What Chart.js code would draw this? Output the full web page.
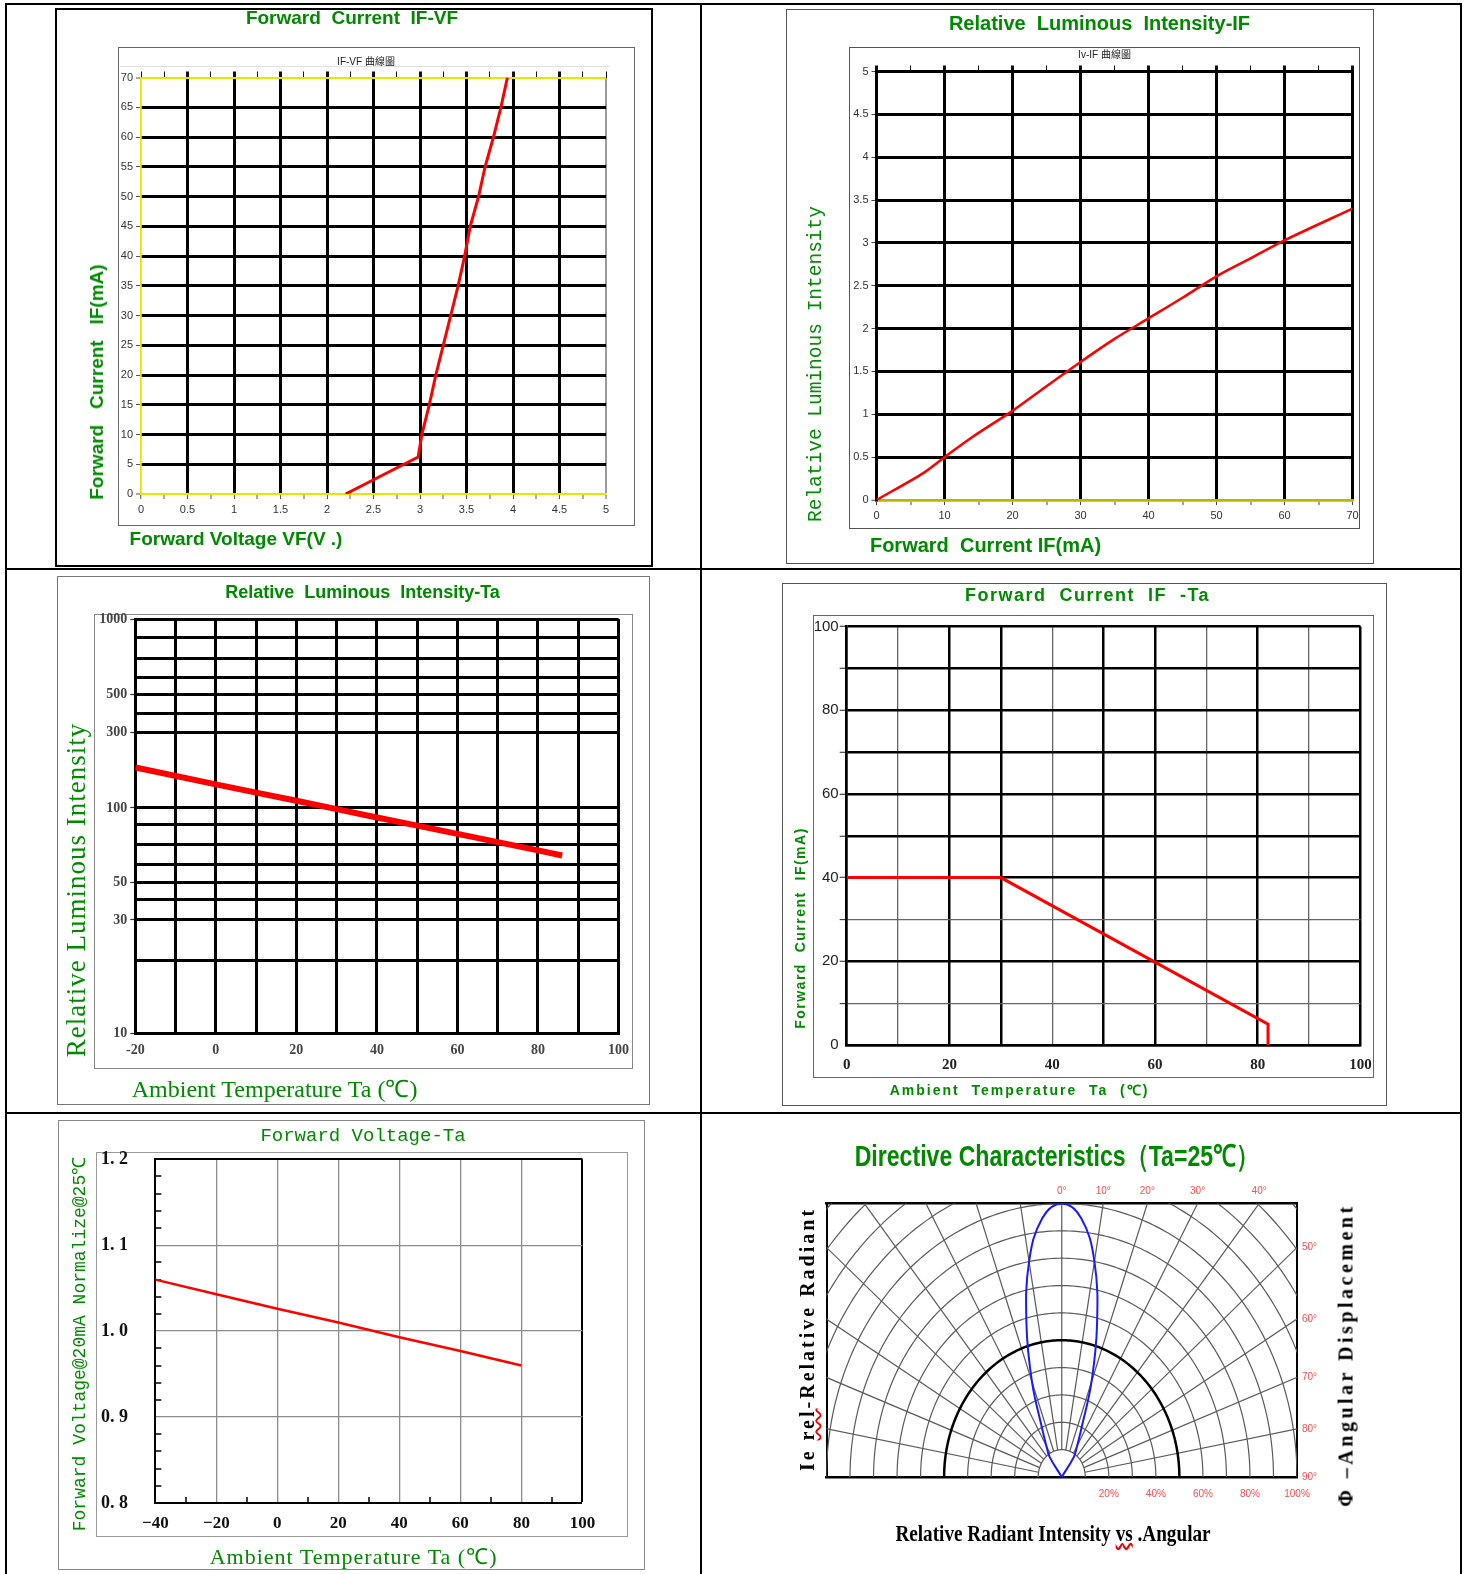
<!DOCTYPE html>
<html>
<head>
<meta charset="utf-8">
<title>LED characteristic curves</title>
<script src="https://cdn.jsdelivr.net/npm/chart.js@4.4.1/dist/chart.umd.min.js"></script>
<style>
html, body { margin:0; padding:0; background:#fff; }
#page { position:relative; width:1465px; height:1574px; overflow:hidden; background:#fff; }
canvas { position:absolute; z-index:2; }
</style>
</head>
<body>
<div id="page"></div>
<script>
// ================= DATA =================
// 1. Forward Current IF-VF
const ifvfVoltage = [2.2, 2.5, 2.98, 3.02, 3.10, 3.17, 3.25, 3.33, 3.41, 3.48, 3.54, 3.63, 3.70, 3.79, 3.87, 3.94];
const ifvfCurrent = [0, 2.4, 6.2, 10, 15, 20, 25, 30, 35, 40, 45, 50, 55, 60, 65, 70];
const ifvfVoltTicks = [0, 0.5, 1, 1.5, 2, 2.5, 3, 3.5, 4, 4.5, 5];
const ifvfCurrTicks = [0, 5, 10, 15, 20, 25, 30, 35, 40, 45, 50, 55, 60, 65, 70];

// 2. Relative Luminous Intensity-IF
const ivifCurrent = [0, 7, 10, 14, 20, 24, 30, 35, 40, 45, 50, 55, 60, 70];
const ivifIntensity = [0, 0.32, 0.5, 0.73, 1.04, 1.27, 1.61, 1.88, 2.12, 2.36, 2.61, 2.82, 3.03, 3.4];
const ivifCurrTicks = [0, 10, 20, 30, 40, 50, 60, 70];
const ivifIntTicks = [0, 0.5, 1, 1.5, 2, 2.5, 3, 3.5, 4, 4.5, 5];

// 3. Relative Luminous Intensity-Ta
const ivtaTemp = [-20, 0, 10, 20, 30, 40, 50, 60, 70, 80, 86];
const ivtaIntensity = [180, 141, 125, 111, 98.5, 88, 79.4, 75.2, 71.2, 67, 64.4];
const ivtaTempTicks = [-20, 0, 20, 40, 60, 80, 100];
const ivtaIntTicks = [10, 30, 50, 100, 300, 500, 1000];
const ivtaGridValues = [10, 20, 30, 40, 50, 60, 70, 80, 100, 300, 400, 500, 600, 700, 800, 1000];

// 4. Forward Current IF-Ta
const ifTaTemp = [0, 30, 82, 82];
const ifTaCurrent = [40, 40, 5, 0];
const ifTaTempTicks = [0, 20, 40, 60, 80, 100];
const ifTaCurrTicks = [0, 20, 40, 60, 80, 100];

// 5. Forward Voltage-Ta
const vfTaTemp = [-40, -20, 0, 20, 40, 60, 80];
const vfTaVoltage = [1.06, 1.043, 1.026, 1.01, 0.993, 0.977, 0.96];
const vfTaTempTicks = [-40, -20, 0, 20, 40, 60, 80, 100];
const vfTaVoltTicks = [0.8, 0.9, 1.0, 1.1, 1.2];

// 6. Directive characteristics
const dirAngles = [-40, -35, -30, -25, -20, -15, -10, -5, 0, 5, 10, 15, 20, 25, 30, 35, 40];
const dirIntensity = [0, 0.09, 0.13, 0.2, 0.37, 0.58, 0.8, 0.95, 1, 0.95, 0.8, 0.58, 0.37, 0.2, 0.13, 0.09, 0];
const dirAngleTicksTop = [0, 10, 20, 30, 40];
const dirAngleTicksSide = [50, 60, 70, 80, 90];
const dirPercentTicks = [20, 40, 60, 80, 100];

// ================= HELPERS =================
const GREEN = '#008a00';
Chart.defaults.font.family = "'Liberation Sans', Arial, sans-serif";
Chart.defaults.animation = false;
Chart.defaults.events = [];
Chart.defaults.plugins.legend.display = false;
Chart.defaults.plugins.tooltip.enabled = false;

const page = document.getElementById('page');
const near = (a, b) => Math.abs(a - b) < 1e-7;
const inSet = (v, arr) => arr.some(a => near(a, v));
const tv = c => (c && c.tick ? c.tick.value : NaN);
const mids = arr => arr.slice(1).map((v, i) => +(((v + arr[i]) / 2).toFixed(6)));
const subdiv = (arr, n) => { const o = []; for (let i = 0; i < arr.length - 1; i++) for (let k = 1; k < n; k++) o.push(+((arr[i] + (arr[i + 1] - arr[i]) * k / n).toFixed(6))); return o; };
const setTicks = vals => s => { s.ticks = vals.slice().sort((a, b) => a - b).map(v => ({ value: v })); };
const pts = (xs, ys) => xs.map((x, i) => ({ x, y: ys[i] }));

function div(css, text, html) {
  const d = document.createElement('div');
  d.style.cssText = css;
  if (html) d.innerHTML = html; else if (text != null) d.textContent = text;
  page.appendChild(d);
  return d;
}
function rect(l, t, r, b, border, z) {
  return div(`position:absolute;left:${l}px;top:${t}px;width:${r - l}px;height:${b - t}px;box-sizing:border-box;border:${border};z-index:${z || 1};`);
}
function fill(l, t, w, h, color) {
  return div(`position:absolute;left:${l}px;top:${t}px;width:${w}px;height:${h}px;background:${color};z-index:3;`);
}
function label(text, cx, cy, font, o = {}) {
  const tr = `translate(-50%,-50%)${o.rot ? ' rotate(-90deg)' : ''}${o.sx ? ` scaleX(${o.sx})` : ''}`;
  return div(`position:absolute;left:${cx}px;top:${cy}px;white-space:pre;line-height:1;font:${font};color:${o.color || GREEN};letter-spacing:${o.ls || 0}px;transform:${tr};z-index:5;`, text, o.html);
}

// place a chart so that its plot area lands on `area` inside canvas `frame`
function mk(frame, area, cfg, o = {}) {
  const c = document.createElement('canvas');
  const W = Math.round(frame.r - frame.l), H = Math.round(frame.b - frame.t);
  c.width = W; c.height = H;
  c.style.left = frame.l + 'px'; c.style.top = frame.t + 'px';
  c.style.width = W + 'px'; c.style.height = H + 'px';
  page.appendChild(c);
  const topH = o.topH || 0, rightW = o.rightW || 0, padL = o.padL || 0;
  cfg.options.responsive = false;
  cfg.options.maintainAspectRatio = false;
  cfg.options.layout = { padding: { left: padL, top: area.t - frame.t - topH, right: frame.l + W - area.r - rightW, bottom: 0 } };
  const sc = cfg.options.scales;
  for (const k in sc) {
    const s = sc[k];
    if (s.position === 'left') s.afterFit = a => { a.width = area.l - frame.l - padL; };
    else if (s.position === 'bottom') s.afterFit = a => { a.height = frame.t + H - area.b; };
    else if (s.position === 'top') s.afterFit = a => { a.height = topH; };
    else if (s.position === 'right') s.afterFit = a => { a.width = rightW; };
  }
  return new Chart(c, cfg);
}

// custom scale reproducing the printed (non-uniform log) grid of chart 3
const ivtaStops = [0, 0.1742, 0.2732, 0.3213, 0.3635, 0.4068, 0.4548, 0.5036, 0.5435, 0.7261, 0.7717, 0.8174, 0.8589, 0.9046, 0.9543, 1];
class StepLogScale extends Chart.LinearScale {
  buildTicks() { return ivtaGridValues.map(v => ({ value: v })); }
  _dec(v) {
    const g = ivtaGridValues, s = ivtaStops;
    let i = 0;
    while (i < g.length - 2 && v > g[i + 1]) i++;
    const t = (Math.log(v) - Math.log(g[i])) / (Math.log(g[i + 1]) - Math.log(g[i]));
    return s[i] + t * (s[i + 1] - s[i]);
  }
  getPixelForValue(v) {
    if (v === null || v === undefined || isNaN(v) || v <= 0) return NaN;
    return this.getPixelForDecimal(this._dec(v));
  }
  getValueForPixel(p) {
    const d = this.getDecimalForPixel(p), g = ivtaGridValues, s = ivtaStops;
    let i = 0;
    while (i < s.length - 2 && d > s[i + 1]) i++;
    const t = (d - s[i]) / (s[i + 1] - s[i]);
    return Math.exp(Math.log(g[i]) + t * (Math.log(g[i + 1]) - Math.log(g[i])));
  }
}
StepLogScale.id = 'stepLog';
Chart.register(StepLogScale);

// polar grid for chart 6
const polarGrid = {
  id: 'polarGrid',
  beforeDatasetsDraw(chart) {
    const { ctx, chartArea: a, scales: { x, y } } = chart;
    const P = (r, deg) => {
      const t = deg * Math.PI / 180;
      return [x.getPixelForValue(r * Math.sin(t)), y.getPixelForValue(r * Math.cos(t))];
    };
    ctx.save();
    ctx.beginPath();
    ctx.rect(a.left, a.top, a.right - a.left, a.bottom - a.top);
    ctx.clip();
    ctx.strokeStyle = '#5a5a5a';
    ctx.lineWidth = 1.2;
    for (let i = 1; i <= 14; i++) {
      if (i === 5) continue;
      ctx.beginPath();
      for (let d = -90; d <= 90; d += 1) {
        const [px, py] = P(i / 10, d);
        d === -90 ? ctx.moveTo(px, py) : ctx.lineTo(px, py);
      }
      ctx.stroke();
    }
    for (let d = -80; d <= 80; d += 10) {
      const [x1, y1] = P(0.1, d), [x2, y2] = P(2, d);
      ctx.beginPath(); ctx.moveTo(x1, y1); ctx.lineTo(x2, y2); ctx.stroke();
    }
    ctx.strokeStyle = '#000';
    ctx.lineWidth = 2.5;
    ctx.beginPath();
    for (let d = -90; d <= 90; d += 1) {
      const [px, py] = P(0.5, d);
      d === -90 ? ctx.moveTo(px, py) : ctx.lineTo(px, py);
    }
    ctx.stroke();
    ctx.restore();
  }
};

// ================= TABLE & FRAMES =================
fill(5, 3, 1457, 2, '#000');
fill(5, 3, 2, 1571, '#000');
fill(1460, 3, 2, 1571, '#000');
fill(700, 3, 2, 1571, '#000');
fill(5, 568, 1457, 2, '#000');
fill(5, 1112, 1457, 2, '#000');

rect(55, 8, 653, 567, '2px solid #000');
rect(118, 47, 635, 526, '1.5px solid #666');
fill(120, 66, 490, 1, '#e2e2e2');
rect(786, 9, 1374, 564, '1px solid #555');
rect(849, 47, 1360, 529, '1.5px solid #555');
rect(57, 576, 650, 1105, '1px solid #777');
rect(94, 614, 633, 1069, '1.5px solid #888');
rect(782, 583, 1387, 1106, '1px solid #555');
rect(813, 615, 1374, 1078, '1.5px solid #666');
rect(58, 1120, 645, 1570, '1px solid #888');
rect(96, 1152, 628, 1537, '1.5px solid #999');

// ================= CHART 1 : IF-VF =================
{
  const allX = [...ifvfVoltTicks, ...mids(ifvfVoltTicks)];
  mk({ l: 55, t: 8, r: 653, b: 567 }, { l: 141, t: 77.5, r: 606, b: 494 }, {
    type: 'scatter',
    data: { datasets: [{ data: pts(ifvfVoltage, ifvfCurrent), showLine: true, borderColor: '#ff0000', borderWidth: 3, pointRadius: 0, tension: 0 }] },
    options: {
      scales: {
        x: {
          type: 'linear', position: 'bottom', min: 0, max: 5, afterBuildTicks: setTicks(allX),
          ticks: { autoSkip: false, maxRotation: 0, minRotation: 0, padding: 4, color: '#333', font: { size: 11 }, callback: v => inSet(v, ifvfVoltTicks) ? String(v) : '' },
          grid: {
            tickLength: 5, tickWidth: 1, tickColor: '#555',
            color: c => near(tv(c), 0) ? '#e6e600' : near(tv(c), 5) ? '#9a9a9a' : '#000',
            lineWidth: c => { const v = tv(c); return near(v, 0) ? 1.5 : near(v, 5) ? 2 : inSet(v, ifvfVoltTicks) ? 3 : 0; }
          },
          border: { display: true, color: '#e6e600', width: 2 }
        },
        x2: {
          type: 'linear', position: 'top', min: 0, max: 5, afterBuildTicks: setTicks(allX),
          ticks: { display: false },
          grid: { drawOnChartArea: false, tickLength: 6, tickColor: '#111', tickWidth: c => { const v = tv(c); return inSet(v, ifvfVoltTicks) && !near(v, 0) && !near(v, 5) ? 3 : 1; } },
          border: { display: false }
        },
        y: {
          type: 'linear', position: 'left', min: 0, max: 70, afterBuildTicks: setTicks(ifvfCurrTicks),
          ticks: { autoSkip: false, padding: 3, color: '#333', font: { size: 11 }, callback: v => String(v) },
          grid: {
            tickLength: 5, tickWidth: 1, tickColor: '#555',
            color: c => (near(tv(c), 0) || near(tv(c), 70)) ? '#e6e600' : '#000',
            lineWidth: c => (near(tv(c), 0) || near(tv(c), 70)) ? 2 : 3
          },
          border: { display: true, color: '#e6e600', width: 1.5 }
        }
      }
    }
  }, { topH: 6 });
}

// ================= CHART 2 : Iv-IF =================
{
  const allX = [...ivifCurrTicks, ...mids(ivifCurrTicks)];
  mk({ l: 786, t: 9, r: 1374, b: 564 }, { l: 876.5, t: 71.5, r: 1352.5, b: 500 }, {
    type: 'scatter',
    data: { datasets: [{ data: pts(ivifCurrent, ivifIntensity), showLine: true, borderColor: '#ff0000', borderWidth: 2.5, pointRadius: 0, tension: 0.3 }] },
    options: {
      scales: {
        x: {
          type: 'linear', position: 'bottom', min: 0, max: 70, afterBuildTicks: setTicks(allX),
          ticks: { autoSkip: false, maxRotation: 0, minRotation: 0, padding: 4, color: '#333', font: { size: 11 }, callback: v => inSet(v, ivifCurrTicks) ? String(v) : '' },
          grid: { tickLength: 5, tickWidth: 1, tickColor: '#444', color: '#000', lineWidth: c => inSet(tv(c), ivifCurrTicks) ? 3 : 0 },
          border: { display: true, color: '#b8b800', width: 2.5 }
        },
        x2: {
          type: 'linear', position: 'top', min: 0, max: 70, afterBuildTicks: setTicks(allX),
          ticks: { display: false },
          grid: { drawOnChartArea: false, tickLength: 6, tickColor: '#111', tickWidth: c => inSet(tv(c), ivifCurrTicks) ? 3 : 1 },
          border: { display: false }
        },
        y: {
          type: 'linear', position: 'left', min: 0, max: 5, afterBuildTicks: setTicks(ivifIntTicks),
          ticks: { autoSkip: false, padding: 3, color: '#333', font: { size: 11 }, callback: v => String(v) },
          grid: { tickLength: 5, tickWidth: 1, tickColor: '#444', color: c => near(tv(c), 0) ? '#b8b800' : '#000', lineWidth: c => near(tv(c), 0) ? 2.5 : 3 },
          border: { display: true, color: '#000', width: 3 }
        }
      }
    }
  }, { topH: 6 });
}

// ================= CHART 3 : Iv-Ta =================
{
  const allX = [...ivtaTempTicks, ...mids(ivtaTempTicks)];
  const tickFont = { family: "'Liberation Serif', serif", size: 14, weight: 'bold' };
  mk({ l: 57, t: 576, r: 650, b: 1105 }, { l: 135.3, t: 619, r: 618.5, b: 1033 }, {
    type: 'scatter',
    data: { datasets: [{ data: pts(ivtaTemp, ivtaIntensity), showLine: true, borderColor: '#ff0000', borderWidth: 6, pointRadius: 0, tension: 0 }] },
    options: {
      scales: {
        x: {
          type: 'linear', position: 'bottom', min: -20, max: 100, afterBuildTicks: setTicks(allX),
          ticks: { autoSkip: false, maxRotation: 0, minRotation: 0, padding: 9, color: '#444', font: tickFont, callback: v => inSet(v, ivtaTempTicks) ? String(v) : '' },
          grid: { drawTicks: false, color: '#000', lineWidth: 3 },
          border: { display: true, color: '#000', width: 3 }
        },
        y: {
          type: 'stepLog', position: 'left', min: 10, max: 1000,
          ticks: { autoSkip: false, padding: 3, color: '#444', font: tickFont, callback: v => inSet(v, ivtaIntTicks) ? String(v) : '' },
          grid: { tickLength: 5, tickColor: '#333', tickWidth: c => inSet(tv(c), ivtaIntTicks) ? 1.2 : 0, color: '#000', lineWidth: 3 },
          border: { display: true, color: '#000', width: 3 }
        }
      }
    }
  });
}

// ================= CHART 4 : IF-Ta =================
{
  const allX = [...ifTaTempTicks, ...mids(ifTaTempTicks)];
  const allY = [...ifTaCurrTicks, ...mids(ifTaCurrTicks)];
  const thinX = [10, 40, 70, 90], thinY = [10, 30];
  mk({ l: 782, t: 583, r: 1387, b: 1106 }, { l: 846.7, t: 626.5, r: 1360.5, b: 1045 }, {
    type: 'scatter',
    data: { datasets: [{ data: pts(ifTaTemp, ifTaCurrent), showLine: true, borderColor: '#ff0000', borderWidth: 3, pointRadius: 0, tension: 0 }] },
    options: {
      scales: {
        x: {
          type: 'linear', position: 'bottom', min: 0, max: 100, afterBuildTicks: setTicks(allX),
          ticks: { autoSkip: false, maxRotation: 0, minRotation: 0, padding: 11, color: '#222', font: { family: "'Liberation Serif', serif", size: 15, weight: 'bold' }, callback: v => inSet(v, ifTaTempTicks) ? String(v) : '' },
          grid: { drawTicks: false, color: c => inSet(tv(c), thinX) ? '#666' : '#000', lineWidth: c => inSet(tv(c), thinX) ? 1.3 : 2.5 },
          border: { display: true, color: '#000', width: 2.5 }
        },
        y: {
          type: 'linear', position: 'left', min: 0, max: 100, afterBuildTicks: setTicks(allY),
          ticks: { autoSkip: false, padding: 1, color: '#222', font: { size: 15 }, callback: v => inSet(v, ifTaCurrTicks) ? String(v) : '' },
          grid: { tickLength: 7, tickWidth: c => near(tv(c), 0) ? 0 : 1, tickColor: '#222', color: c => inSet(tv(c), thinY) ? '#666' : '#000', lineWidth: c => inSet(tv(c), thinY) ? 1.3 : 2.5 },
          border: { display: true, color: '#000', width: 2.5 }
        }
      }
    }
  });
}

// ================= CHART 5 : VF-Ta =================
{
  const allX = [...vfTaTempTicks, ...mids(vfTaTempTicks)];
  const allY = [...vfTaVoltTicks, ...subdiv(vfTaVoltTicks, 5)];
  const serifBold = { family: "'Liberation Serif', serif", size: 17, weight: 'bold' };
  mk({ l: 58, t: 1120, r: 645, b: 1570 }, { l: 155.3, t: 1159.3, r: 582.4, b: 1503 }, {
    type: 'scatter',
    data: { datasets: [{ data: pts(vfTaTemp, vfTaVoltage), showLine: true, borderColor: '#ff0000', borderWidth: 2.5, pointRadius: 0, tension: 0 }] },
    options: {
      scales: {
        x: {
          type: 'linear', position: 'bottom', min: -40, max: 100, afterBuildTicks: setTicks(allX),
          ticks: { autoSkip: false, maxRotation: 0, minRotation: 0, padding: 16, color: '#111', font: serifBold, callback: v => inSet(v, vfTaTempTicks) ? (v < 0 ? '\u2212' + (-v) : String(v)) : '' },
          grid: {
            tickLength: -6, tickColor: '#000', tickWidth: c => inSet(tv(c), vfTaTempTicks) ? 0 : 1.5,
            color: c => near(tv(c), 100) ? '#000' : '#8c8c8c',
            lineWidth: c => { const v = tv(c); if (!inSet(v, vfTaTempTicks) || near(v, -40)) return 0; return near(v, 100) ? 2 : 1.3; }
          },
          border: { display: true, color: '#000', width: 2 }
        },
        y: {
          type: 'linear', position: 'left', min: 0.8, max: 1.2, afterBuildTicks: setTicks(allY),
          ticks: { autoSkip: false, crossAlign: 'far', padding: 0, color: '#111', font: { family: "'Liberation Serif', serif", size: 18, weight: 'bold' }, callback: v => inSet(v, vfTaVoltTicks) ? v.toFixed(1).replace('.', '. ') : '' },
          grid: {
            tickLength: -6, tickColor: '#000', tickWidth: c => inSet(tv(c), vfTaVoltTicks) ? 0 : 1.5,
            color: c => near(tv(c), 1.2) ? '#000' : '#8c8c8c',
            lineWidth: c => { const v = tv(c); if (!inSet(v, vfTaVoltTicks) || near(v, 0.8)) return 0; return near(v, 1.2) ? 2 : 1.3; }
          },
          border: { display: true, color: '#000', width: 2 }
        }
      }
    }
  }, { padL: 43 });
}

// ================= CHART 6 : Directive characteristics =================
{
  const redFont = { size: 10 };
  const RED = '#ff4d4d';
  const rad = d => d * Math.PI / 180;
  mk({ l: 705, t: 1116, r: 1458, b: 1572 }, { l: 826.5, t: 1203.5, r: 1297, b: 1477 }, {
    type: 'scatter',
    data: {
      datasets: [{
        data: dirAngles.map((a, i) => ({ x: dirIntensity[i] * Math.sin(rad(a)), y: dirIntensity[i] * Math.cos(rad(a)) })),
        showLine: true, borderColor: '#1a1aff', borderWidth: 2, pointRadius: 0, tension: 0.4
      }]
    },
    options: {
      scales: {
        x: {
          type: 'linear', position: 'bottom', min: -1, max: 1,
          afterBuildTicks: setTicks(dirPercentTicks.map(p => p / 100)),
          ticks: { autoSkip: false, maxRotation: 0, minRotation: 0, padding: 11, color: RED, font: redFont, callback: v => Math.round(v * 100) + '%' },
          grid: { drawOnChartArea: false, drawTicks: false },
          border: { display: true, color: '#000', width: 2.5 }
        },
        x2: {
          type: 'linear', position: 'top', min: -1, max: 1,
          afterBuildTicks: setTicks(dirAngleTicksTop.map(a => Math.tan(rad(a)))),
          ticks: { autoSkip: false, maxRotation: 0, minRotation: 0, padding: 6, color: RED, font: redFont, callback: v => Math.round(Math.atan(v) * 180 / Math.PI) + '°' },
          grid: { drawOnChartArea: false, drawTicks: false },
          border: { display: true, color: '#000', width: 2.5 }
        },
        y: {
          type: 'linear', position: 'left', min: 0, max: 1,
          ticks: { display: false },
          grid: { drawOnChartArea: false, drawTicks: false },
          border: { display: true, color: '#000', width: 2 }
        },
        y2: {
          type: 'linear', position: 'right', min: 0, max: 1,
          afterBuildTicks: setTicks(dirAngleTicksSide.map(a => 1 / Math.tan(rad(a)))),
          ticks: { autoSkip: false, padding: 5, color: RED, font: redFont, callback: v => Math.round(90 - Math.atan(v) * 180 / Math.PI) + '°' },
          grid: { drawOnChartArea: false, drawTicks: false },
          border: { display: true, color: '#000', width: 2 }
        }
      }
    },
    plugins: [polarGrid]
  }, { topH: 30, rightW: 40 });
}

// ================= TEXTS =================
const SANSB = "'Liberation Sans', Arial, sans-serif";
label('Forward  Current  IF-VF', 352, 18, `bold 19px ${SANSB}`);
label('IF-VF 曲線圖', 366, 60, "10px 'Liberation Sans','Noto Sans CJK TC',sans-serif", { color: '#222' });
label('Forward   Current   IF(mA)', 97, 382, `bold 19px ${SANSB}`, { rot: true });
label('Forward Voltage VF(V .)', 236, 539, `bold 19px ${SANSB}`);

label('Relative  Luminous  Intensity-IF', 1099.5, 23, `bold 20px ${SANSB}`);
label('Iv-IF 曲線圖', 1104.5, 52.5, "10px 'Liberation Sans','Noto Sans CJK TC',sans-serif", { color: '#222' });
label('Relative Luminous Intensity', 816, 363.5, "19.5px 'Liberation Mono', monospace", { rot: true });
label('Forward  Current IF(mA)', 985.5, 545, `bold 20px ${SANSB}`);

label('Relative  Luminous  Intensity-Ta', 362.5, 591.5, `bold 18px ${SANSB}`);
label('Relative Luminous Intensity', 75.5, 890, "27px 'Liberation Serif', serif", { rot: true, ls: 1 });
label('Ambient Temperature Ta (℃)', 274.6, 1086.5, "24px 'Liberation Serif', serif");

label('Forward  Current  IF  -Ta', 1087.5, 594.5, `bold 18px ${SANSB}`, { ls: 1.5 });
label('Forward  Current  IF(mA)', 800.3, 927.7, `bold 14px ${SANSB}`, { rot: true, ls: 1.5 });
label('Ambient  Temperature  Ta  (℃)', 1019.5, 1089.4, `bold 14px ${SANSB}`, { ls: 2 });

label('Forward Voltage-Ta', 363, 1135.6, "19px 'Liberation Mono', monospace");
label('Forward Voltage@20mA Normalize@25℃', 78.3, 1343.5, "18px 'Liberation Mono', monospace", { rot: true });
label('Ambient Temperature Ta (℃)', 353.6, 1555.4, "22px 'Liberation Serif', serif", { ls: 1 });

label('Directive Characteristics（Ta=25℃）', 1057, 1154.7, `bold 30px ${SANSB}`, { sx: 0.77 });
label('Ie rel-Relative Radiant', 807.3, 1339, "bold 20px 'Liberation Serif', serif", { rot: true, ls: 3, color: '#000',
  html: 'Ie <span style="text-decoration:underline wavy #e00;">rel</span>-Relative Radiant' });
label('Φ –Angular Displacement', 1346, 1354.6, "bold 20px 'Liberation Serif', serif", { rot: true, ls: 3.5, color: '#000' });
label('Relative Radiant Intensity vs .Angular', 1053.2, 1533.3, "bold 24px 'Liberation Serif', serif", { sx: 0.8, color: '#000',
  html: 'Relative Radiant Intensity <span style="text-decoration:underline wavy #e00;">vs</span> .Angular' });
</script>
</body>
</html>
